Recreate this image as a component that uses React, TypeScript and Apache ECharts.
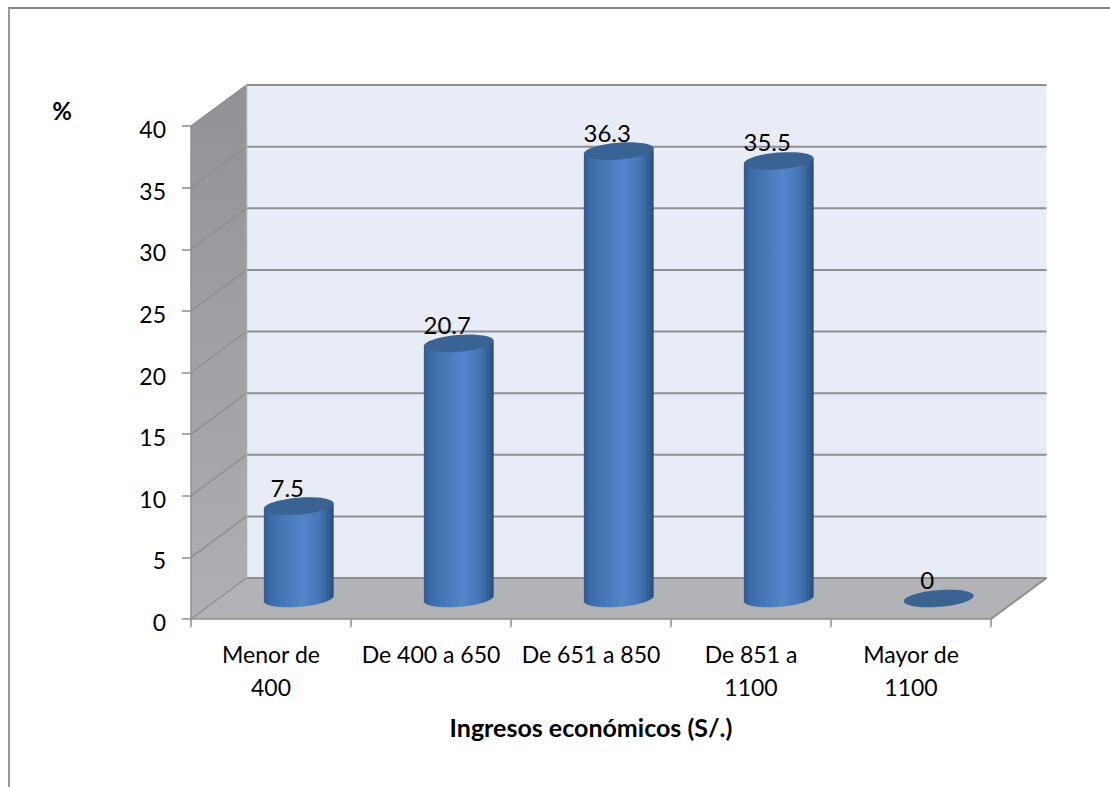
import React, { useEffect, useRef } from "react";
import * as echarts from "echarts";

const categories = ["Menor de\n400", "De 400 a 650", "De 651 a 850", "De 851 a\n1100", "Mayor de\n1100"];
const values = [7.5, 20.7, 36.3, 35.5, 0];
const yTicks = [0, 5, 10, 15, 20, 25, 30, 35, 40];

const FONT = "Lato, Carlito, sans-serif";
const DEPTH_X = 55.5;
const DEPTH_Y = 41;
const RX = 35;
const RY = 8.4;
const TILT = (4.6 * Math.PI) / 180;
const LINE = "#8f8f8f";

// Point on the tilted ellipse closing a cylinder; t = 0 is its right end, t = PI its left end,
// and angles between them run along the near (lower) edge.
function ellipsePoint(cx: number, cy: number, t: number): number[] {
  const c = Math.cos(t);
  const s = Math.sin(t);
  return [
    cx + RX * c * Math.cos(TILT) + RY * s * Math.sin(TILT),
    cy - RX * c * Math.sin(TILT) + RY * s * Math.cos(TILT),
  ];
}

function ellipseArc(cx: number, cy: number, from: number, to: number, steps: number): number[][] {
  const pts: number[][] = [];
  for (let i = 0; i <= steps; i++) pts.push(ellipsePoint(cx, cy, from + ((to - from) * i) / steps));
  return pts;
}

// Side wall, back wall, floor and the gridlines running across them.
function renderFrame(params: any, api: any) {
  const cs = params.coordSys;
  const x0 = cs.x;
  const x1 = cs.x + cs.width;
  const yBase = api.coord([0, 0])[1];
  const yTop = api.coord([0, 40])[1];
  const children: any[] = [
    {
      type: "polygon",
      shape: { points: [[x0 + DEPTH_X, yTop - DEPTH_Y], [x1 + DEPTH_X, yTop - DEPTH_Y], [x1 + DEPTH_X, yBase - DEPTH_Y], [x0 + DEPTH_X, yBase - DEPTH_Y]] },
      style: { fill: "#e8ecf6" },
    },
    {
      type: "polygon",
      shape: { points: [[x0, yTop], [x0 + DEPTH_X, yTop - DEPTH_Y], [x0 + DEPTH_X, yBase - DEPTH_Y], [x0, yBase]] },
      style: {
        fill: new echarts.graphic.LinearGradient(0, 0, 0, 1, [
          { offset: 0, color: "#909295" },
          { offset: 1, color: "#aeb0b3" },
        ]),
      },
    },
    {
      type: "polygon",
      shape: { points: [[x0, yBase], [x0 + DEPTH_X, yBase - DEPTH_Y], [x1 + DEPTH_X, yBase - DEPTH_Y], [x1, yBase]] },
      style: { fill: "#b1b3b6" },
    },
  ];
  yTicks.forEach((t) => {
    const y = api.coord([0, t])[1];
    children.push({
      type: "line",
      shape: { x1: x0, y1: y, x2: x0 + DEPTH_X, y2: y - DEPTH_Y },
      style: { stroke: LINE, lineWidth: 1.5 },
    });
    if (t !== 0) {
      children.push({
        type: "line",
        shape: { x1: x0 + DEPTH_X, y1: y - DEPTH_Y, x2: x1 + DEPTH_X, y2: y - DEPTH_Y },
        style: { stroke: LINE, lineWidth: 2 },
      });
    }
  });
  children.push(
    {
      type: "line",
      shape: { x1: x0 + DEPTH_X, y1: yBase - DEPTH_Y, x2: x1 + DEPTH_X, y2: yBase - DEPTH_Y },
      style: { stroke: LINE, lineWidth: 2 },
    },
    {
      type: "line",
      shape: { x1: x1, y1: yBase, x2: x1 + DEPTH_X, y2: yBase - DEPTH_Y },
      style: { stroke: LINE, lineWidth: 2 },
    },
    {
      type: "line",
      shape: { x1: x0 + DEPTH_X, y1: yTop - DEPTH_Y, x2: x0 + DEPTH_X, y2: yBase - DEPTH_Y },
      style: { stroke: "#a8aab0", lineWidth: 1.5 },
    },
    {
      type: "line",
      shape: { x1: x0, y1: yTop, x2: x0, y2: yBase },
      style: { stroke: LINE, lineWidth: 1.5 },
    }
  );
  return { type: "group", children };
}

// One cylinder standing halfway into the floor's depth, with its value above the cap.
function renderCylinder(_params: any, api: any) {
  const value = api.value(1);
  const [fx, fy] = api.coord([api.value(0), value]);
  const yBase = api.coord([api.value(0), 0])[1];
  const cx = fx + DEPTH_X / 2;
  const top = fy - DEPTH_Y / 2;
  const bottom = yBase - DEPTH_Y / 2;
  const children: any[] = [];
  if (value > 0) {
    children.push({
      type: "polygon",
      shape: {
        points: [
          ellipsePoint(cx, top, Math.PI),
          ...ellipseArc(cx, bottom, Math.PI, 0, 40),
          ellipsePoint(cx, top, 0),
        ],
      },
      style: {
        fill: new echarts.graphic.LinearGradient(0, 0, 1, 0, [
          { offset: 0, color: "#2f5a90" },
          { offset: 0.1, color: "#3c6ca9" },
          { offset: 0.55, color: "#5386cb" },
          { offset: 0.8, color: "#4676b5" },
          { offset: 0.95, color: "#315a8c" },
          { offset: 1, color: "#28466f" },
        ]),
      },
    });
  }
  children.push(
    {
      type: "polygon",
      shape: { points: ellipseArc(cx, top, 0, Math.PI * 2, 72) },
      style: { fill: "#3a6292" },
    },
    {
      type: "text",
      x: cx - 11.5,
      y: top - 19,
      style: {
        text: String(value),
        fill: "#000",
        font: `24px ${FONT}`,
        align: "center",
        verticalAlign: "middle",
      },
    }
  );
  return { type: "group", children };
}

export default function App() {
  const ref = useRef<HTMLDivElement>(null);
  useEffect(() => {
    document.body.style.margin = "0";
    const chart = echarts.init(ref.current!, undefined, { renderer: "svg" });
    chart.setOption({
      animation: false,
      backgroundColor: "#fff",
      grid: { left: 191, top: 126, width: 800, height: 493 },
      xAxis: {
        type: "category",
        data: categories,
        axisTick: { show: true, length: 8, lineStyle: { color: LINE, width: 1.5 } },
        axisLine: { show: true, lineStyle: { color: LINE, width: 1.5 } },
        axisLabel: { color: "#000", fontFamily: FONT, fontSize: 23, lineHeight: 33, margin: 18, interval: 0 },
        name: "Ingresos económicos (S/.)",
        nameLocation: "middle",
        nameGap: 95,
        nameMoveOverlap: false,
        nameTextStyle: { color: "#000", fontFamily: FONT, fontSize: 25, fontWeight: "bold" },
        z: 5,
      },
      yAxis: {
        type: "value",
        min: 0,
        max: 40,
        interval: 5,
        splitLine: { show: false },
        axisTick: { show: true, length: 9, lineStyle: { color: LINE, width: 1.5 } },
        axisLine: { show: false },
        axisLabel: { color: "#000", fontFamily: FONT, fontSize: 23, margin: 25, verticalAlign: "top", lineHeight: 6 },
      },
      graphic: [
        {
          type: "line",
          shape: { x1: 8, y1: 8, x2: 1110, y2: 8 },
          style: { stroke: "#868686", lineWidth: 2 },
        },
        {
          type: "line",
          shape: { x1: 9, y1: 8, x2: 9, y2: 787 },
          style: { stroke: "#999", lineWidth: 2 },
        },
        {
          type: "text",
          x: 62,
          y: 110,
          style: {
            text: "%",
            fill: "#000",
            font: `bold 24px ${FONT}`,
            align: "center",
            verticalAlign: "middle",
          },
        },
      ],
      series: [
        {
          type: "custom",
          coordinateSystem: "cartesian2d",
          renderItem: renderFrame,
          data: [[0, 0]],
          silent: true,
          z: 1,
        },
        {
          type: "custom",
          coordinateSystem: "cartesian2d",
          renderItem: renderCylinder,
          data: values.map((v, i) => [i, v]),
          encode: { x: 0, y: 1 },
          clip: false,
          z: 2,
        },
      ],
    });
    return () => chart.dispose();
  }, []);
  return <div ref={ref} style={{ width: 1110, height: 787 }} />;
}
